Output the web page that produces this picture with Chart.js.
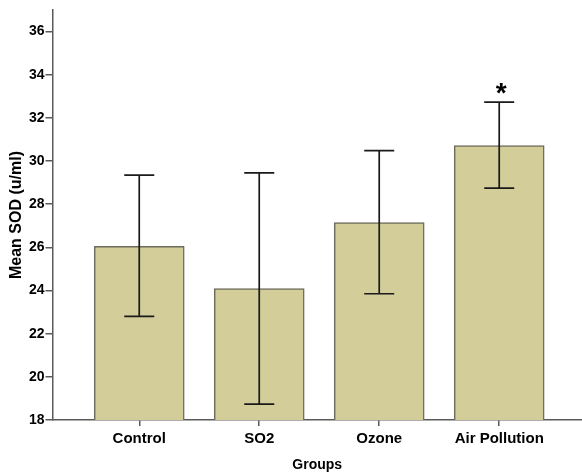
<!DOCTYPE html>
<html>
<head>
<meta charset="utf-8">
<script src="https://cdn.jsdelivr.net/npm/chart.js@4.4.1/dist/chart.umd.min.js"></script>
<style>
  html, body { margin: 0; padding: 0; background: #fff; }
  canvas { display: block; }
</style>
</head>
<body>
<canvas id="chart" width="582" height="475"></canvas>
<script>
const groups = ['Control', 'SO2', 'Ozone', 'Air Pollution'];
const meanSod = [26.05, 24.09, 27.15, 30.72];
const errLow = [22.8, 18.74, 23.85, 28.75];
const errHigh = [29.35, 29.45, 30.48, 32.73];
const sigMarks = ['', '', '', '*'];
const yTicks = [18, 20, 22, 24, 26, 28, 30, 32, 34, 36];

const FONT = 'Liberation Sans, Arial, sans-serif';
const AXIS_COLOR = '#5a5a5a';

const errorBars = {
  id: 'errorBars',
  afterDatasetsDraw(chart) {
    const { ctx, scales: { x, y } } = chart;
    ctx.save();
    ctx.strokeStyle = '#1a1a1a';
    ctx.lineWidth = 1.7;
    groups.forEach((_, i) => {
      const px = x.getPixelForValue(i);
      const lo = y.getPixelForValue(errLow[i]);
      const hi = y.getPixelForValue(errHigh[i]);
      ctx.beginPath();
      ctx.moveTo(px, lo);
      ctx.lineTo(px, hi);
      ctx.moveTo(px - 15, lo);
      ctx.lineTo(px + 15, lo);
      ctx.moveTo(px - 15, hi);
      ctx.lineTo(px + 15, hi);
      ctx.stroke();
      if (sigMarks[i]) {
        ctx.fillStyle = '#000';
        ctx.font = 'bold 28px ' + FONT;
        ctx.textAlign = 'center';
        ctx.textBaseline = 'middle';
        ctx.fillText(sigMarks[i], px + 2, hi - 8);
      }
    });
    ctx.restore();
  }
};

new Chart(document.getElementById('chart'), {
  type: 'bar',
  data: {
    datasets: [{
      data: meanSod.map((v, i) => ({ x: i, y: v })),
      backgroundColor: '#d2cd99',
      borderColor: '#6c6b5c',
      borderWidth: 1.5,
      barThickness: 90
    }]
  },
  options: {
    responsive: false,
    animation: false,
    layout: { padding: { top: 10, right: 0, left: 0, bottom: 0 } },
    plugins: {
      legend: { display: false },
      tooltip: { enabled: false }
    },
    scales: {
      x: {
        type: 'linear',
        offset: false,
        min: -0.723,
        max: 3.69,
        afterBuildTicks: (scale) => { scale.ticks = groups.map((_, i) => ({ value: i })); },
        afterFit: (scale) => { scale.height = 55; },
        grid: { offset: false, drawOnChartArea: false, drawTicks: true, tickLength: 6, color: AXIS_COLOR, lineWidth: 1.5 },
        border: { color: AXIS_COLOR, width: 1.5 },
        ticks: {
          callback: (v) => groups[v] ?? '',
          color: '#000',
          padding: 4,
          maxRotation: 0,
          autoSkip: false,
          font: { family: FONT, size: 15, weight: 'bold' }
        },
        title: {
          display: true,
          text: 'Groups',
          color: '#000',
          padding: { top: 0, bottom: 1 },
          font: { family: FONT, size: 14, weight: 'bold' }
        }
      },
      y: {
        min: 18,
        max: 37,
        afterBuildTicks: (scale) => { scale.ticks = yTicks.map((v) => ({ value: v })); },
        afterFit: (scale) => { scale.width = 52.5; },
        grid: { drawOnChartArea: false, drawTicks: true, tickLength: 7, color: AXIS_COLOR, lineWidth: 1.5 },
        border: { color: AXIS_COLOR, width: 1.5 },
        ticks: {
          color: '#000',
          padding: 1,
          font: { family: FONT, size: 14, weight: 'bold' }
        },
        title: {
          display: true,
          text: 'Mean SOD (u/ml)',
          color: '#000',
          padding: { top: 7, bottom: 0 },
          font: { family: FONT, size: 16, weight: 'bold' }
        }
      }
    }
  },
  plugins: [errorBars]
});
</script>
</body>
</html>
